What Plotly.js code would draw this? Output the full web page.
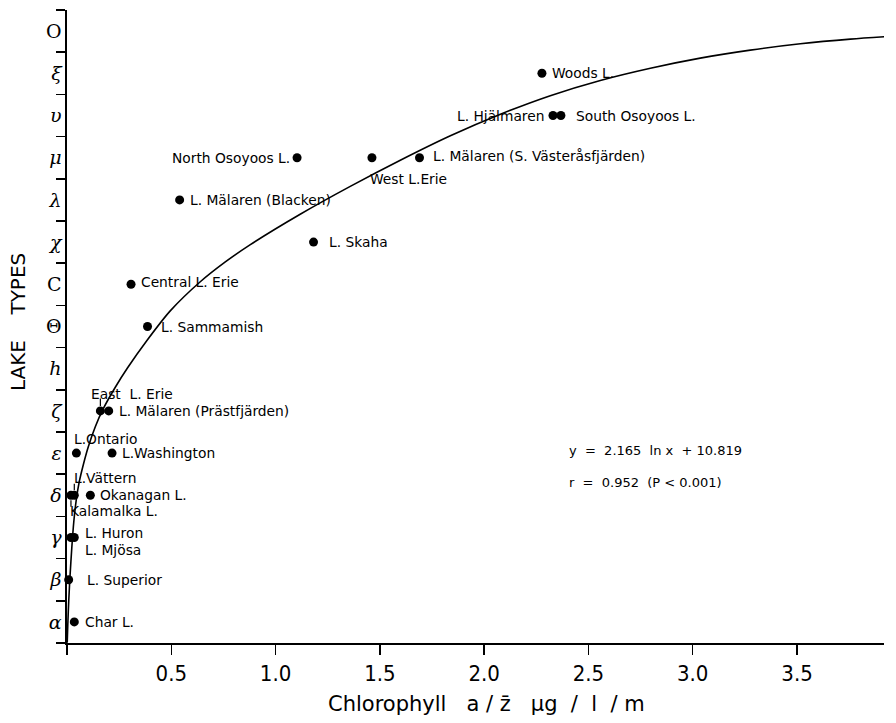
<!DOCTYPE html>
<html>
<head>
<meta charset="utf-8">
<script src="https://cdn.plot.ly/plotly-3.0.1.min.js"></script>
<style>html,body{margin:0;padding:0;background:#fff;}#chart{width:896px;height:723px;}</style>
</head>
<body>
<div id="chart"></div>
<script>
// ---- data ----
const typeLabels = ["<i>α</i>","<i>β</i>","<i>γ</i>","<i>δ</i>","<i>ε</i>","<i>ζ</i>","<i>h</i>","Θ","C","<i>χ</i>","<i>λ</i>","<i>μ</i>","<i>υ</i>","<i>ξ</i>","O"];
const typeLevels = [1,2,3,4,5,6,7,8,9,10,11,12,13,14,15];

const lakeNames = ["Char L.","L. Superior","L. Huron","L. Mjösa","L.Vättern","Kalamalka L.","Okanagan L.",
  "L.Ontario","L.Washington","East\u00A0\u00A0L. Erie","L. Mälaren (Prästfjärden)","L. Sammamish","Central L. Erie",
  "L. Skaha","L. Mälaren (Blacken)","North Osoyoos L.","West L.Erie","L. Mälaren (S. Västeråsfjärden)",
  "L. Hjälmaren","South Osoyoos L.","Woods L."];
const chlorophyll = [0.035,0.008,0.035,0.019,0.035,0.019,0.112,0.045,0.216,0.160,0.200,0.386,0.307,
  1.182,0.540,1.103,1.462,1.690,2.330,2.368,2.277];
const lakeType = [1,2,3,3,4,4,4,5,5,6,6,8,9,10,11,12,12,12,13,13,14];

// fitted curve as drawn
const curveX = [0.001,0.0038,0.0086,0.0149,0.023,0.0326,0.0446,0.0588,0.0782,0.1021,0.1357,0.174,
  0.2315,0.289,0.385,0.495,0.639,0.759,0.879,1.118,1.358,1.598,1.838,2.078,2.317,2.557,2.797,
  3.036,3.276,3.516,3.756,3.962];
const curveY = [0.507,0.934,1.526,2.118,2.758,3.374,3.896,4.322,4.725,5.152,5.626,6.052,
  6.56,7.01,7.68,8.37,9.06,9.53,9.94,10.66,11.32,11.94,12.52,13.03,13.47,13.83,14.12,
  14.36,14.55,14.70,14.81,14.88];

const xTickVals = [0,0.5,1.0,1.5,2.0,2.5,3.0,3.5];
const xTickText = ["","0.5","1.0","1.5","2.0","2.5","3.0","3.5"];

const equationLines = ["y\u00A0\u00A0=\u00A0\u00A02.165\u00A0\u00A0ln x\u00A0\u00A0+ 10.819",
                       "r\u00A0\u00A0=\u00A0\u00A00.952\u00A0\u00A0(P < 0.001)"];
const xTitle = "Chlorophyll\u00A0\u00A0\u00A0a\u00A0/\u00A0z\u0304\u00A0\u00A0\u00A0μg\u00A0\u00A0/\u00A0\u00A0l\u00A0\u00A0/\u00A0m";
const yTitle = "LAKE\u00A0\u00A0\u00A0\u00A0TYPES";

// ---- label placement (style) ----
const labelStyle = [
  {dx:9,dy:0,a:"left"},{dx:16,dy:0,a:"left"},{dx:9,dy:5,a:"left"},{dx:12,dy:-12,a:"left"},
  {dx:-2,dy:17,a:"left"},{dx:-3,dy:-16,a:"left"},{dx:8,dy:0,a:"left"},
  {dx:-4,dy:14,a:"left"},{dx:8,dy:0,a:"left"},{dx:-11,dy:17,a:"left"},{dx:8,dy:0,a:"left"},
  {dx:11,dy:0,a:"left"},{dx:8,dy:2,a:"left"},{dx:13,dy:0,a:"left"},{dx:8,dy:0,a:"left"},
  {dx:-5,dy:0,a:"right"},{dx:-4,dy:-21,a:"left"},{dx:11,dy:2,a:"left"},
  {dx:-7,dy:0,a:"right"},{dx:13,dy:0,a:"left"},{dx:8,dy:0,a:"left"}
];
// small pointer strokes (label index -> vertical offset of the stroke's start, px)
const pointerFrom = {4:-13, 5:13, 9:-14};

const FONT = "'DejaVu Sans', sans-serif";

const annotations = lakeNames.map((n,i)=>({
  x: chlorophyll[i], y: lakeType[i], xref:"x", yref:"y", text:n, showarrow:false,
  xanchor: labelStyle[i].a, yanchor:"middle", xshift: labelStyle[i].dx, yshift: labelStyle[i].dy,
  font:{family:FONT,size:13.8,color:"#000"}
}));
Object.keys(pointerFrom).forEach(k=>{
  const i = +k;
  annotations.push({x:chlorophyll[i], y:lakeType[i], xref:"x", yref:"y", text:"", showarrow:true,
    ax:0, ay:pointerFrom[k], arrowhead:0, arrowwidth:1.2, arrowcolor:"#000", standoff:5});
});
annotations.push({xref:"paper",yref:"paper",x:0.612,y:0.304,xanchor:"left",yanchor:"middle",
  text:equationLines[0],showarrow:false,font:{family:FONT,size:13,color:"#000"}});
annotations.push({xref:"paper",yref:"paper",x:0.612,y:0.253,xanchor:"left",yanchor:"middle",
  text:equationLines[1],showarrow:false,font:{family:FONT,size:13,color:"#000"}});
annotations.push({xref:"paper",yref:"paper",x:0.513,y:-0.097,xanchor:"center",yanchor:"middle",
  text:xTitle,showarrow:false,
  font:{family:"'DejaVu Sans', sans-serif",size:21,color:"#000"}});
annotations.push({xref:"paper",yref:"paper",x:-0.06,y:0.507,xanchor:"center",yanchor:"middle",
  text:yTitle,textangle:-90,showarrow:false,
  font:{family:"'DejaVu Sans', sans-serif",size:20,color:"#000"}});

const traces = [
  {x:curveX, y:curveY, mode:"lines", type:"scatter", line:{color:"#000",width:1.6,shape:"spline",smoothing:0.8},
   hoverinfo:"skip", showlegend:false},
  {x:chlorophyll, y:lakeType, mode:"markers", type:"scatter", text:lakeNames,
   marker:{color:"#000",size:9}, cliponaxis:false, showlegend:false}
];

const layout = {
  width:896, height:723,
  margin:{l:67,r:12,t:10,b:80},
  paper_bgcolor:"#fff", plot_bgcolor:"#fff",
  showlegend:false,
  xaxis:{range:[0,3.917], tickmode:"array", tickvals:xTickVals, ticktext:xTickText,
    ticks:"outside", ticklen:10, tickwidth:1.5, tickcolor:"#000",
    showline:true, linecolor:"#000", linewidth:1.6, showgrid:false, zeroline:false,
    tickfont:{family:"'Liberation Sans Narrow', 'DejaVu Sans Condensed', sans-serif",size:22,color:"#000"}},
  yaxis:{range:[0.5,15.5], tickmode:"array", tickvals:typeLevels, ticktext:typeLabels,
    ticks:"", showline:true, linecolor:"#000", linewidth:1.6, showgrid:false, zeroline:false,
    tickfont:{family:"'DejaVu Serif', serif",size:19,color:"#000"},
    minor:{ticks:"outside", tick0:0.5, dtick:1, ticklen:9, tickwidth:1.5, tickcolor:"#000", showgrid:false}},
  annotations: annotations
};

Plotly.newPlot("chart", traces, layout, {displayModeBar:false, staticPlot:true});
</script>
</body>
</html>
